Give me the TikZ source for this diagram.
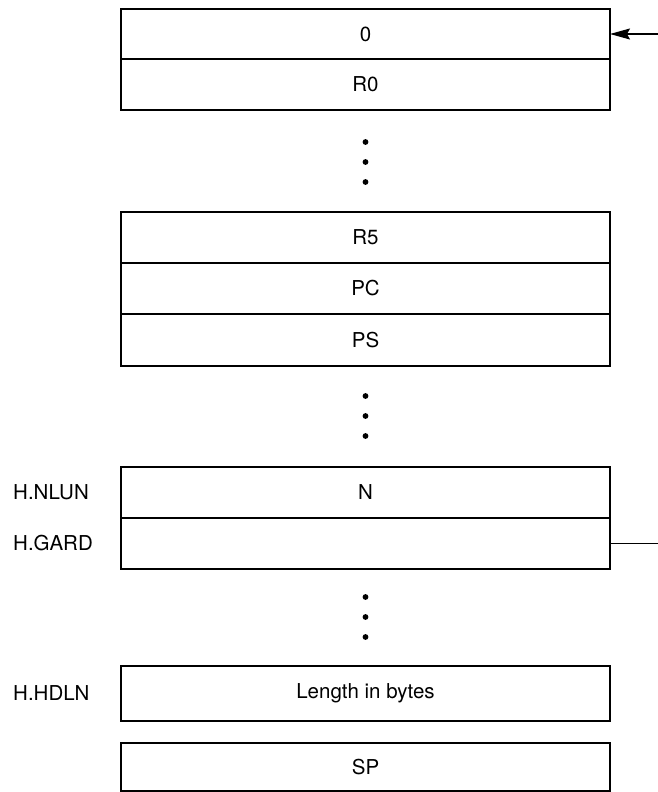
\documentclass[tikz,border=0pt]{standalone}
\usepackage{fontspec}
\setmainfont{TeX Gyre Heros}
\usetikzlibrary{positioning,
                arrows.meta}                % arrow tips

\tikzset{
    cell/.style={draw, line width=1.5pt, minimum width=489pt, minimum height=51pt,
                 inner sep=0pt, outer sep=0pt, font=\fontsize{20.5}{24}\selectfont},
    lbl/.style={anchor=west, inner sep=0pt, font=\fontsize{20.5}{24}\selectfont},
    dot/.style={circle, fill, inner sep=0pt, minimum size=5.8pt},
}

\begin{document}
\begin{tikzpicture}[x=1pt, y=-1pt]
        \useasboundingbox (0,0) rectangle (658,792);
        % top block
        \node[cell, minimum height=50pt] (zero) at (365.5,34) {0};
        \node[cell, below=0pt of zero] (rzero) {R0};

        % register block
        \node[cell] (rfive) at (365.5,237.5) {R5};
        \node[cell, below=0pt of rfive] (pc) {PC};
        \node[cell, below=0pt of pc, minimum height=52pt] (ps) {PS};

        % header block
        \node[cell] (nlun) at (365.5,492.5) {N};
        \node[cell, below=0pt of nlun] (gard) {};

        \node[cell, minimum height=55pt] (hdln) at (365.5,693.5) {Length in bytes};
        \node[cell, minimum height=48pt] (sp) at (365.5,767) {SP};

        % vertical dots
        \foreach \y [count=\i] in {142,162,182}
        { \node[dot] (dota\i) at (365.5,\y) {};
        }
        \foreach \y [count=\i] in {396,416,436}
        { \node[dot] (dotb\i) at (365.5,\y) {};
        }
        \foreach \y [count=\i] in {597,617,637}
        { \node[dot] (dotc\i) at (365.5,\y) {};
        }

        % offsets on the left
        \coordinate (lm) at (13,0);
        \node[lbl] (hnlun) at (nlun -| lm) {H.NLUN};
        \node[lbl] (hgard) at (gard -| lm) {H.GARD};
        \node[lbl] (hhdln) at (hdln -| lm) {H.HDLN};

        % pointers on the right
        \coordinate (entry) at ([xshift=48pt]zero.east);
        \draw[-{Stealth[length=20pt, width=11pt, inset=3pt]}, line width=1.5pt] (entry) -- (zero.east);
        \coordinate (gardend) at ([xshift=48pt]gard.east);
        \draw[line width=1.5pt] (gard.east) -- (gardend);
\end{tikzpicture}
\end{document}
